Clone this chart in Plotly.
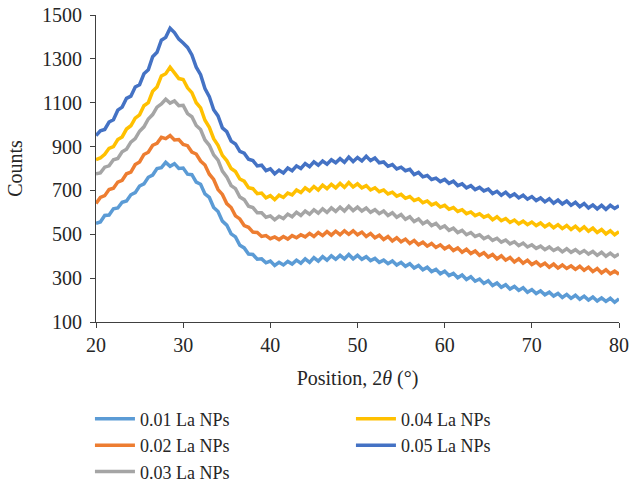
import plotly.graph_objects as go

# 2-theta sampling grid (degrees), 0.5 deg step from 20 to 80
two_theta = [20 + 0.5 * i for i in range(121)]

series_names = ["0.01 La NPs", "0.02 La NPs", "0.03 La NPs", "0.04 La NPs", "0.05 La NPs"]
series_colors = ["#5B9BD5", "#ED7D31", "#A5A5A5", "#FFC000", "#4472C4"]

counts_001 = [
    550, 556, 586, 588, 616, 620, 646, 652, 680, 690, 720, 730, 760, 770, 800, 804,
    828, 810, 822, 800, 802, 774, 772, 738, 728, 684, 668, 622, 604, 560, 542, 502,
    488, 450, 438, 410, 408, 386, 388, 370, 378, 358, 372, 360, 376, 364, 382, 368,
    388, 372, 394, 378, 398, 382, 402, 386, 404, 388, 408, 388, 404, 386, 398, 380,
    390, 372, 382, 366, 378, 360, 372, 354, 366, 346, 358, 338, 350, 330, 340, 320,
    332, 312, 322, 302, 314, 294, 306, 286, 296, 276, 288, 266, 278, 258, 270, 250,
    262, 244, 256, 236, 248, 230, 242, 224, 236, 218, 230, 212, 226, 208, 222, 204,
    218, 200, 214, 196, 210, 194, 208, 190, 206,
]
counts_002 = [
    640, 668, 676, 704, 710, 738, 746, 776, 784, 818, 830, 864, 874, 906, 915, 942,
    936, 950, 930, 932, 910, 904, 875, 866, 834, 816, 774, 750, 704, 682, 640, 622,
    584, 570, 540, 532, 510, 508, 490, 494, 480, 488, 476, 490, 478, 494, 484, 498,
    488, 504, 490, 508, 494, 512, 496, 514, 498, 516, 500, 516, 498, 510, 490, 504,
    484, 496, 476, 490, 470, 484, 466, 478, 458, 472, 452, 464, 446, 458, 440, 452,
    434, 446, 426, 438, 418, 432, 412, 424, 404, 416, 396, 408, 388, 402, 382, 394,
    374, 388, 368, 382, 362, 374, 356, 368, 350, 364, 346, 360, 344, 356, 340, 354,
    336, 350, 330, 344, 324, 338, 320, 332, 318,
]
counts_003 = [
    776, 780, 806, 812, 840, 846, 876, 888, 920, 936, 970, 990, 1026, 1046, 1080, 1094,
    1116, 1098, 1108, 1086, 1088, 1050, 1036, 996, 978, 930, 906, 862, 838, 788, 762, 722,
    708, 670, 658, 628, 622, 598, 598, 578, 584, 566, 582, 572, 592, 580, 600, 586,
    606, 592, 612, 596, 616, 600, 620, 604, 624, 606, 628, 608, 624, 606, 620, 600,
    612, 594, 606, 586, 598, 578, 590, 568, 580, 558, 570, 548, 560, 540, 550, 528,
    538, 518, 528, 508, 518, 498, 508, 490, 498, 480, 490, 472, 482, 464, 474, 456,
    466, 448, 460, 442, 452, 436, 446, 430, 442, 426, 437, 420, 434, 418, 430, 414,
    426, 410, 422, 404, 418, 400, 414, 398, 410,
]
counts_004 = [
    840, 848, 865, 892, 900, 932, 944, 980, 995, 1030, 1045, 1086, 1100, 1152, 1172, 1222,
    1232, 1262, 1236, 1210, 1206, 1168, 1146, 1100, 1076, 1020, 988, 936, 906, 860, 836, 800,
    786, 752, 742, 712, 708, 685, 688, 666, 676, 658, 678, 668, 688, 680, 702, 690,
    712, 698, 718, 702, 724, 708, 728, 712, 732, 714, 736, 716, 730, 712, 722, 702,
    712, 694, 702, 684, 692, 674, 682, 664, 672, 654, 662, 644, 652, 634, 642, 624,
    632, 614, 622, 604, 612, 594, 602, 585, 594, 578, 586, 566, 580, 562, 572, 554,
    565, 548, 560, 544, 556, 540, 552, 534, 547, 530, 544, 526, 540, 522, 537, 518,
    534, 514, 528, 508, 522, 502, 516, 498, 512,
]
counts_005 = [
    950, 972, 978, 1012, 1022, 1066, 1080, 1120, 1130, 1172, 1182, 1232, 1250, 1310, 1330, 1385,
    1398, 1440, 1420, 1390, 1372, 1352, 1318, 1262, 1228, 1165, 1128, 1068, 1040, 985, 968, 925,
    912, 878, 870, 842, 836, 812, 815, 790, 798, 776, 792, 780, 802, 790, 812, 800,
    822, 808, 830, 815, 834, 820, 840, 826, 845, 828, 852, 832, 850, 835, 856, 836,
    848, 826, 830, 810, 818, 798, 806, 790, 796, 772, 782, 762, 768, 750, 756, 740,
    750, 732, 742, 722, 730, 712, 722, 704, 714, 698, 706, 686, 696, 678, 692, 672,
    684, 666, 678, 660, 672, 654, 666, 648, 662, 642, 656, 638, 652, 632, 646, 626,
    640, 620, 634, 616, 632, 614, 632, 618, 630,
]

all_counts = [counts_001, counts_002, counts_003, counts_004, counts_005]
legend_ranks = [1, 3, 5, 2, 4]

x_ticks = [20, 30, 40, 50, 60, 70, 80]
y_ticks = [100, 300, 500, 700, 900, 1100, 1300, 1500]

FONT = "Liberation Serif"
TXT = "#262626"
AX = "#404040"

fig = go.Figure()
for name, color, ys, rank in zip(series_names, series_colors, all_counts, legend_ranks):
    fig.add_trace(go.Scatter(
        x=two_theta, y=ys, mode="lines", name=name,
        line=dict(color=color, width=3.5),
        legendrank=rank,
    ))

fig.update_layout(
    width=629, height=485,
    margin=dict(l=96, r=10, t=15, b=163),
    paper_bgcolor="white", plot_bgcolor="white",
    font=dict(family=FONT, size=20, color=TXT),
    showlegend=True,
    legend=dict(
        orientation="h",
        xref="container", yref="container",
        x=0.143, xanchor="left",
        y=0.174, yanchor="top",
        entrywidth=206, entrywidthmode="pixels",
        itemwidth=40,
        font=dict(family=FONT, size=18, color=TXT),
        bgcolor="rgba(0,0,0,0)",
        traceorder="normal",
    ),
)
fig.update_xaxes(
    range=[20, 80], tickvals=x_ticks, ticktext=[str(v) for v in x_ticks],
    showline=True, linecolor=AX, linewidth=1, mirror=False,
    ticks="outside", ticklen=5, tickcolor=AX,
    showgrid=False, zeroline=False,
    title=dict(text="Position, 2<i>θ</i> (°)", standoff=15, font=dict(family=FONT, size=20, color=TXT)),
    automargin=False,
)
fig.update_yaxes(
    range=[100, 1500], tickvals=y_ticks, ticktext=[str(v) for v in y_ticks],
    showline=True, linecolor=AX, linewidth=1, mirror=False,
    ticks="outside", ticklen=5, tickcolor=AX, ticklabelstandoff=4,
    showgrid=False, zeroline=False,
    title=dict(text="Counts", standoff=14, font=dict(family=FONT, size=20, color=TXT)),
    automargin=False,
)

fig.write_html(
    "out.html",
    config={"displayModeBar": False},
    post_script="document.body.style.margin='0';",
)
